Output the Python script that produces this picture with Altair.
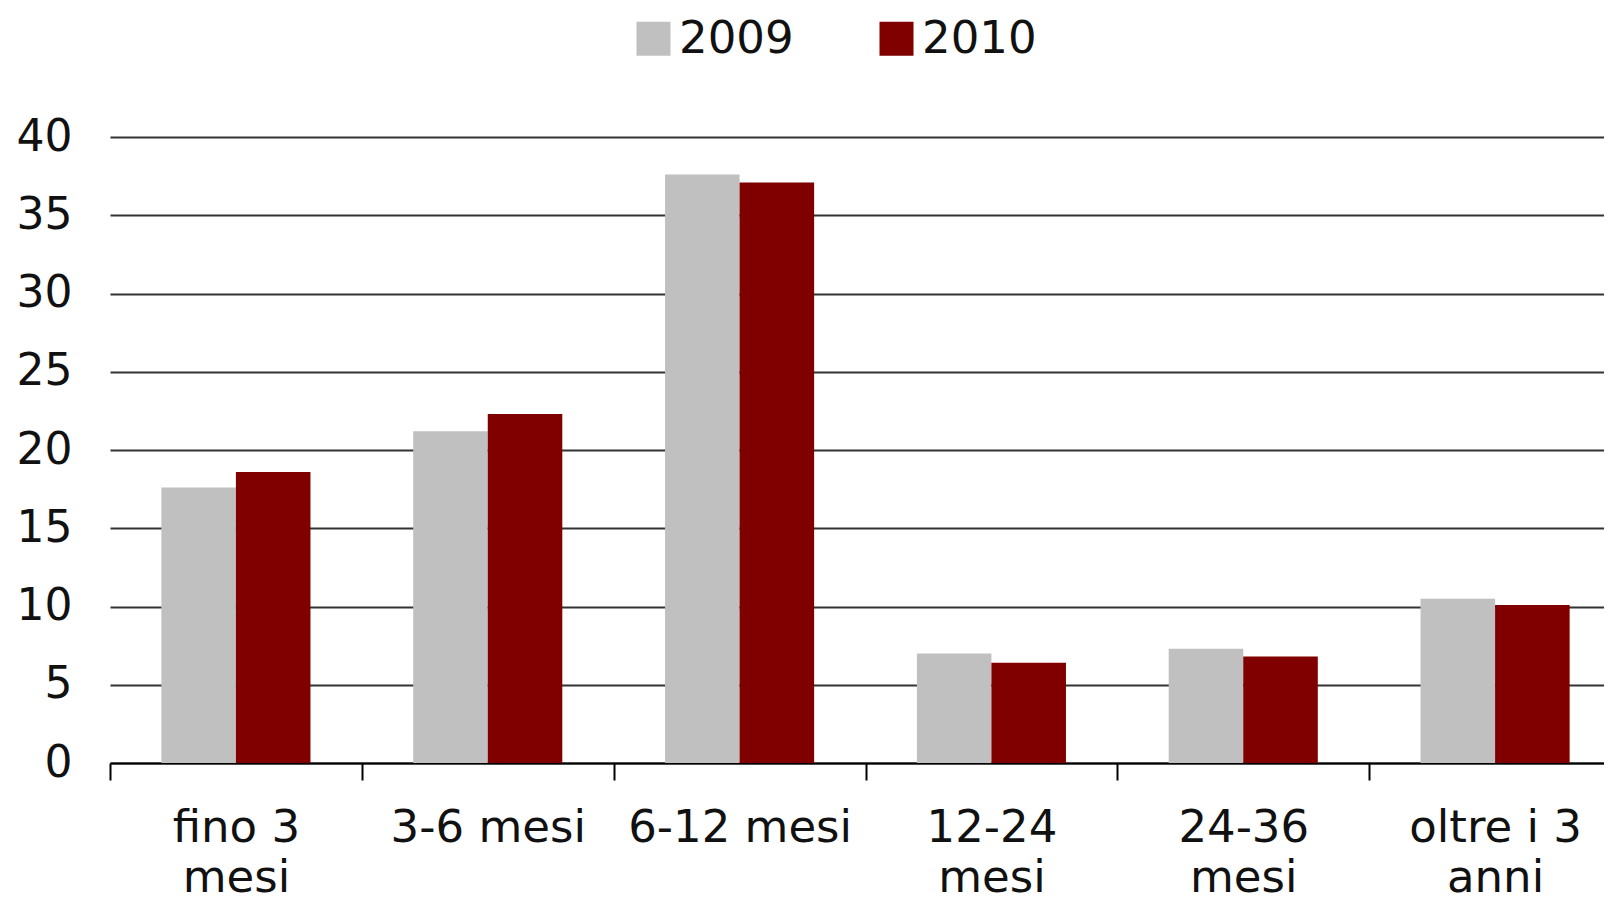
import altair as alt
import pandas as pd

categories = ["fino 3 mesi", "3-6 mesi", "6-12 mesi", "12-24 mesi", "24-36 mesi", "oltre i 3 anni"]
label_lines = [["fino 3", "mesi"], ["3-6 mesi"], ["6-12 mesi"], ["12-24", "mesi"], ["24-36", "mesi"], ["oltre i 3", "anni"]]
years = ["2009", "2010"]
values_2009 = [17.6, 21.2, 37.6, 7.0, 7.3, 10.5]
values_2010 = [18.6, 22.3, 37.1, 6.4, 6.8, 10.1]
colors = ["#C0C0C0", "#800000"]

rows = []
for c, a, b in zip(categories, values_2009, values_2010):
    rows.append({"cat": c, "anno": "2009", "val": a})
    rows.append({"cat": c, "anno": "2010", "val": b})
df = pd.DataFrame(rows)

expr = "''"
for c, lines in reversed(list(zip(categories, label_lines))):
    arr = "[" + ",".join("'" + l + "'" for l in lines) + "]"
    expr = f"datum.label == '{c}' ? {arr} : ({expr})"

FONT = "DejaVu Sans"

chart = alt.Chart(df).mark_bar().encode(
    x=alt.X("cat:N", sort=categories, title=None,
            scale=alt.Scale(paddingInner=0, paddingOuter=0, range=[0, 1511]),
            axis=alt.Axis(labelAngle=0, labelExpr=expr, tickBand="extent",
                          labelFontSize=45, labelLineHeight=50, labelPadding=25,
                          labelLimit=1000,
                          tickSize=17, tickWidth=2, tickColor="#000000",
                          domainColor="#000000", domainWidth=2,
                          labelColor="#111111", labelFont=FONT,
                          labelBaseline="top", grid=False)),
    xOffset=alt.XOffset("anno:N", sort=years, scale=alt.Scale(paddingInner=0, paddingOuter=0.689)),
    y=alt.Y("val:Q", title=None,
            scale=alt.Scale(domain=[0, 40], nice=False),
            axis=alt.Axis(values=[0, 5, 10, 15, 20, 25, 30, 35, 40], domain=False, ticks=False,
                          labelFontSize=44, labelPadding=38, labelFont=FONT, labelColor="#111111",
                          gridColor="#333333", gridWidth=2)),
    color=alt.Color("anno:N", sort=years,
                    scale=alt.Scale(domain=years, range=colors),
                    legend=alt.Legend(title=None, orient="none", direction="horizontal",
                                      legendX=521, legendY=-121,
                                      symbolType="square", symbolSize=1156, symbolStrokeWidth=0,
                                      labelFontSize=45, labelFont=FONT, labelColor="#111111",
                                      labelOffset=3, columnPadding=80, symbolOpacity=1)),
).properties(
    width=1494, height=626,
    autosize="none",
    padding={"left": 102, "top": 129, "right": 0, "bottom": 140},
).configure_view(stroke=None)

chart.save("out.html", embed_options={"renderer": "svg", "actions": False})
